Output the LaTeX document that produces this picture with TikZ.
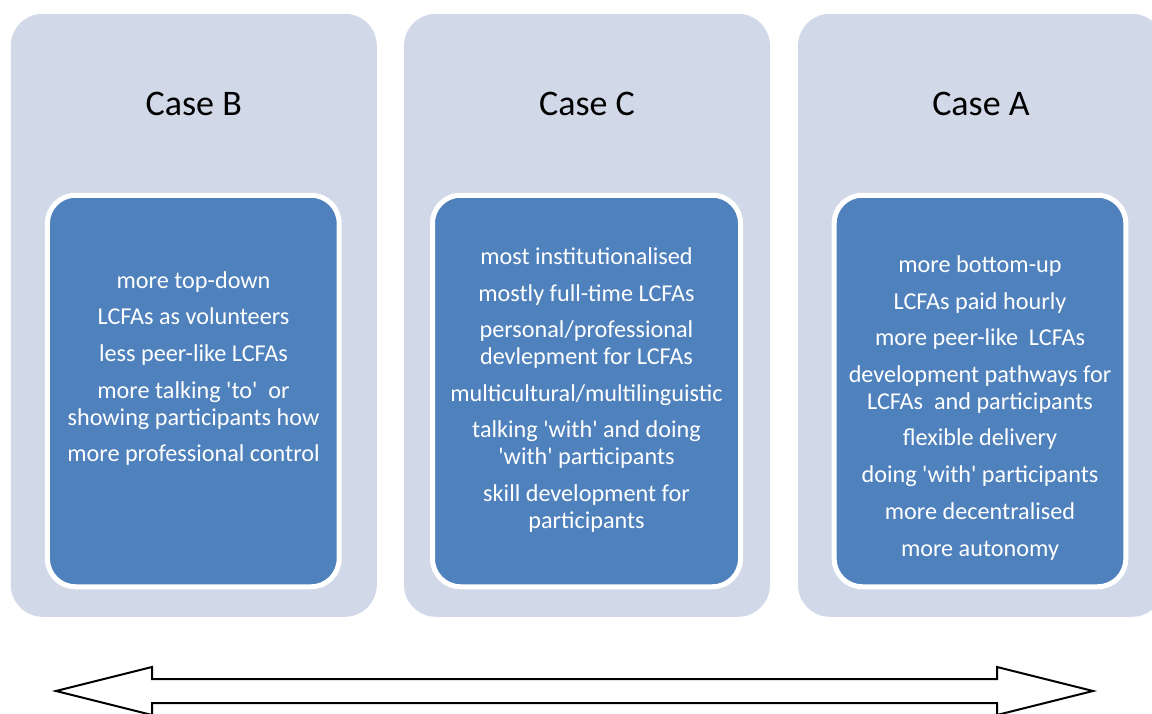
\documentclass[tikz,border=0pt]{standalone}
\usepackage{fontspec}
\setmainfont{Carlito}
\usepackage{tikz}
\usetikzlibrary{shapes,positioning}
\definecolor{paleblue}{HTML}{D1D8E8}
\definecolor{midblue}{HTML}{4F81BD}
\tikzstyle{outer} = [rectangle,fill=paleblue,rounded corners=32pt,minimum width=366pt,minimum height=603pt,inner sep=0]
\tikzstyle{inner} = [rectangle,draw=white,line width=5pt,fill=midblue,rounded corners=28pt,minimum height=391.5pt,inner sep=0]
\tikzstyle{title} = [anchor=base,font=\fontsize{36}{40}\selectfont]
\tikzstyle{items} = [anchor=base,align=center,text=white,inner sep=0,font=\fontsize{24.2}{26.7}\selectfont]
\tikzstyle{bigarrow} = [draw=black,line width=2pt,fill=white,line join=miter]
\def \gap {10pt}
\def \q {\textquotesingle}

\begin{document}
\begin{tikzpicture}[x=1pt,y=-1pt]
      \useasboundingbox (0,0) rectangle (1152,713);
      \node[outer] (caseB) at (193.8,315.3) {};
      \node[outer] (caseC) at (587,315.3) {};
      \node[outer] (caseA) at (981,315.3) {};
      \node[inner,minimum width=291.7pt] (boxB) at (193.3,391) {};
      \node[inner,minimum width=308pt] (boxC) at (586.5,391) {};
      \node[inner,minimum width=291.6pt] (boxA) at (980,391) {};
      \node[title] (titleB) at (193.8,115) {Case B};
      \node[title] (titleC) at (587,115) {Case C};
      \node[title] (titleA) at (981,115) {Case A};
      % items: node base is the last line
      \node[items] (textB) at (193.5,461.7) {more top-down\\[\gap]
        LCFAs as volunteers\\[\gap]
        less peer-like LCFAs\\[\gap]
        more talking \q to\q\ \ or\\showing participants how\\[\gap]
        more professional control};
      \node[items] (textC) at (586.5,528) {most institutionalised\\[\gap]
        mostly full-time LCFAs\\[\gap]
        personal/professional\\devlepment for LCFAs\\[\gap]
        multicultural/multilinguistic\\[\gap]
        talking \q with\q{} and doing\\\q with\q{} participants\\[\gap]
        skill development for\\participants};
      \node[items] (textA) at (980,556) {more bottom-up\\[\gap]
        LCFAs paid hourly\\[\gap]
        more peer-like\ \ LCFAs\\[\gap]
        development pathways for\\LCFAs\ \ and participants\\[\gap]
        flexible delivery\\[\gap]
        doing \q with\q{} participants\\[\gap]
        more decentralised\\[\gap]
        more autonomy};
      % double block arrow along the bottom
      \coordinate (tipL) at (56,691);
      \coordinate (tipR) at (1093,691);
      \draw[bigarrow] (tipL) -- +(96,-24) -- +(96,-12) -- +(941,-12) -- +(941,-24)
        -- (tipR) -- +(-96,24) -- +(-96,12) -- +(-941,12) -- +(-941,24) -- cycle;
    \end{tikzpicture}
\end{document}
